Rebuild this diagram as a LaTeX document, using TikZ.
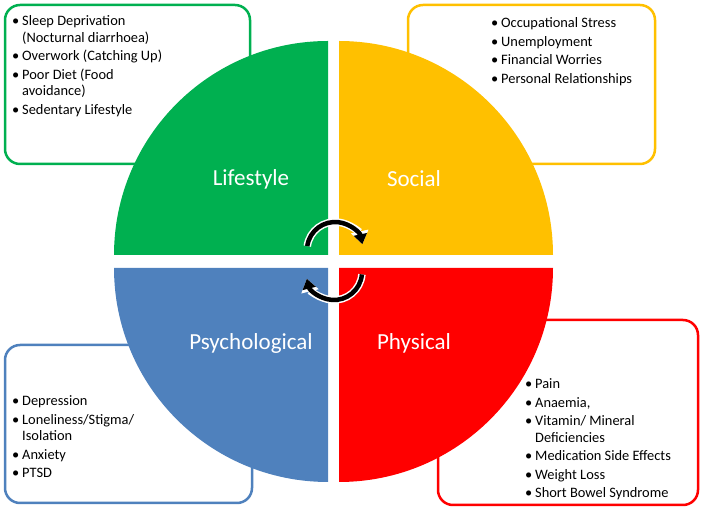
\documentclass[tikz,border=0pt]{standalone}
\usepackage{fontspec}
\setmainfont{Carlito}
\usetikzlibrary{arrows.meta,positioning}

\definecolor{lifegreen}{HTML}{00B050}
\definecolor{socialyellow}{HTML}{FFC000}
\definecolor{psychblue}{HTML}{4F81BD}
\definecolor{physred}{HTML}{FF0000}

\newcommand{\itm}[1]{\par\noindent\hangindent=10pt\hangafter=1\makebox[10pt][l]{\textbullet}#1\par}

\tikzset{
  factorbox/.style={draw=#1, line width=2.5pt, rounded corners=15pt, fill=white, inner sep=0pt},
  factortext/.style={anchor=north west, inner sep=0pt, text width=220pt, align=flush left,
    font=\fontsize{14.4}{16.5}\selectfont\setlength{\parskip}{2pt}},
  quadlabel/.style={text=white, font=\fontsize{23}{27}\selectfont},
  cyclearrow/.style={line width=4.5pt, -{Triangle[length=10pt,width=13pt]},
    preaction={draw=white, line width=7.5pt, -{Triangle[length=13pt,width=17pt]}}}
}

\begin{document}
\begin{tikzpicture}[x=1pt,y=1pt]
    \useasboundingbox (0,0) rectangle (702,511);
    % boxes behind the circle
    \node[factorbox=lifegreen, minimum width=245pt, minimum height=159pt]    (lifebox)   at (127.5,426.5) {};
    \node[factorbox=socialyellow, minimum width=247pt, minimum height=159pt] (socialbox) at (531.5,426.5) {};
    \node[factorbox=psychblue, minimum width=247pt, minimum height=158pt]    (psychbox)  at (128.5,87) {};
    \node[factorbox=physred, minimum width=260pt, minimum height=185pt]      (physbox)   at (568,98.5) {};

    \node[factortext] (lifetext) at (12,504) {%
      \itm{Sleep Deprivation\newline(Nocturnal diarrhoea)}
      \itm{Overwork (Catching Up)}
      \itm{Poor Diet (Food\newline avoidance)}
      \itm{Sedentary Lifestyle}};
    \node[factortext] (socialtext) at (491,502) {%
      \itm{Occupational Stress}
      \itm{Unemployment}
      \itm{Financial Worries}
      \itm{Personal Relationships}};
    \node[factortext] (psychtext) at (12,124) {%
      \itm{Depression}
      \itm{Loneliness/Stigma/\newline Isolation}
      \itm{Anxiety}
      \itm{PTSD}};
    \node[factortext] (phystext) at (525,141) {%
      \itm{Pain}
      \itm{Anaemia,}
      \itm{Vitamin/ Mineral\newline Deficiencies}
      \itm{Medication Side Effects}
      \itm{Weight Loss}
      \itm{Short Bowel Syndrome}};

    % the four quadrants
    \fill[lifegreen]    (328,256) -- ++(-214,0) arc (180:90:214) -- cycle;
    \fill[socialyellow] (339,256) -- ++(214,0) arc (0:90:214) -- cycle;
    \fill[psychblue]    (328,243) -- ++(-214,0) arc (180:270:214) -- cycle;
    \fill[physred]      (339,243) -- ++(214,0) arc (0:-90:214) -- cycle;

    \node[quadlabel] (lifestyle) at (251,332) {Lifestyle};
    \node[quadlabel] (social)    at (414,332) {Social};
    \node[quadlabel] (psych)     at (251,168) {Psychological};
    \node[quadlabel] (physical)  at (414,168) {Physical};

    % cycle arrows
    \draw[cyclearrow] (335,261) ++(172:28) arc (172:12:28);
    \draw[cyclearrow] (334,239) ++(-5:28) arc (-5:-166:28);
\end{tikzpicture}
\end{document}
